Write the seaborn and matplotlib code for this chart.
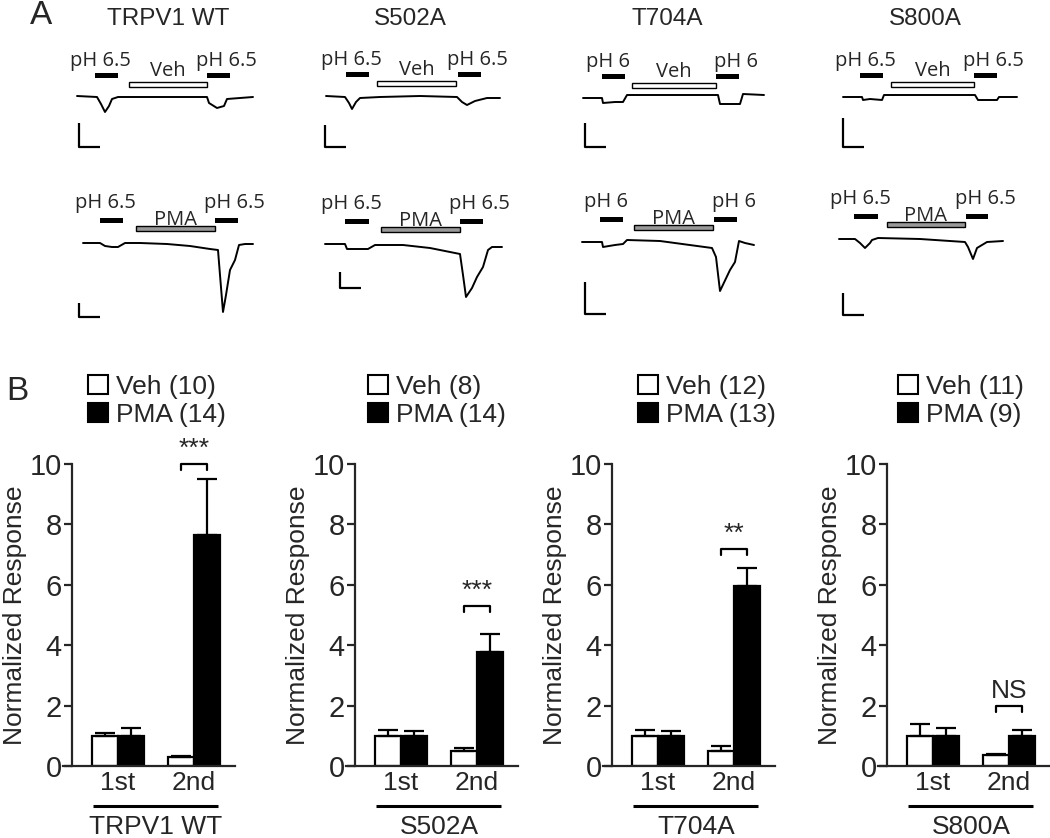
import numpy as np
import pandas as pd
import seaborn as sns
import matplotlib.pyplot as plt
from matplotlib.patches import Patch, Rectangle
from matplotlib.transforms import blended_transform_factory

W, H = 1050, 838

# ---------------- panel B: normalized responses ----------------
constructs = ["TRPV1 WT", "S502A", "T704A", "S800A"]
applications = ["1st", "2nd"]
n_veh = [10, 8, 12, 11]
n_pma = [14, 14, 13, 9]
veh_mean = [[1.0, 0.30], [1.0, 0.50], [1.0, 0.50], [1.0, 0.35]]
veh_sem = [[0.10, 0.04], [0.20, 0.10], [0.20, 0.15], [0.40, 0.05]]
pma_mean = [[1.0, 7.65], [1.0, 3.78], [1.0, 5.95], [1.0, 1.00]]
pma_sem = [[0.25, 1.85], [0.15, 0.58], [0.15, 0.60], [0.25, 0.20]]
sig_labels = ["***", "***", "**", "NS"]
sig_heights = [10.0, 5.3, 7.2, 2.0]

# ---------------- panel A: example current traces ----------------
ph_labels = ["pH 6.5", "pH 6.5", "pH 6", "pH 6.5"]
veh_t = [
    [0, 20, 24, 28, 32, 35, 41, 63, 103, 130, 132, 140, 147, 150, 176],
    [0, 19, 23, 26, 30, 34, 54, 94, 131, 136, 141, 149, 161, 174],
    [0, 19, 20, 32, 40, 44, 77, 117, 135, 137, 147, 157, 160, 181],
    [0, 19, 20, 27, 39, 41, 77, 117, 132, 135, 147, 154, 156, 174],
]
veh_i = [
    [1, 0, -7, -15, -9, -2, 0, 0, 0, 0, -6, -11, -9, -2, 0],
    [0, -1, -7, -13, -6, -2, -1, 0, -1, -6, -9, -5, -2, -2],
    [0, 0, -5, -4, -4, 3, 3, 3, 3, -6, -6, -6, 4, 3],
    [0, 0, -3, -2, -3, 2, 2, 2, 2, -3, -3, -3, 0, 0],
]
pma_t = [
    [0, 17, 22, 29, 35, 42, 57, 84, 107, 127, 135, 137, 140, 143, 147, 152, 156, 162, 170],
    [0, 20, 22, 25, 43, 50, 78, 105, 135, 138, 141, 147, 152, 158, 163, 167, 177],
    [0, 20, 21, 33, 41, 45, 78, 130, 134, 138, 148, 153, 157, 163, 172],
    [0, 16, 21, 26, 31, 33, 39, 81, 126, 129, 134, 138, 148, 164],
]
pma_i = [
    [0, 0, -3, -4, -4, 0, 0, -1, -3, -6, -7, -32, -69, -52, -27, -17, -2, -1, -1],
    [0, 0, -5, -5, -5, -1, -1, -4, -10, -31, -53, -44, -33, -23, -6, -3, -3],
    [0, 0, -5, -3, -2, 2, 1, -6, -15, -49, -28, -20, 1, -1, -3],
    [0, 0, -4, -9, -4, -1, 1, 0, -3, -8, -20, -9, -3, -2],
]
# application windows (start, end), same time units as traces
veh_ph1 = [(18, 41), (20, 43), (19, 42), (17, 40)]
veh_drug = [(52, 130), (51, 130), (49, 133), (48, 131)]
veh_ph2 = [(130, 153), (132, 155), (133, 156), (131, 154)]
pma_ph1 = [(17, 40), (20, 44), (18, 41), (15, 39)]
pma_drug = [(53, 132), (56, 135), (52, 131), (48, 126)]
pma_ph2 = [(132, 155), (135, 158), (132, 155), (127, 149)]
# scale bars: vertical length for each trace (horizontal is the same for all)
veh_scale_v = [24, 22, 24, 29]
pma_scale_v = [14, 16, 32, 22]
scale_h = 21

sns.set_style("ticks")
plt.rcParams["font.family"] = ["Liberation Sans", "DejaVu Sans"]
LBL_FONT = ["Open Sans", "DejaVu Sans"]

fig = plt.figure(figsize=(W / 100, H / 100), dpi=100)


def px_axes(ox, oy, x0=-40, x1=200, y0=-90, y1=50):
    # axes where 1 data unit = 1 pixel, origin at pixel (ox, oy)
    ax = fig.add_axes([(ox + x0) / W, (H - (oy - y0)) / H, (x1 - x0) / W, (y1 - y0) / H])
    ax.set_xlim(x0, x1)
    ax.set_ylim(y0, y1)
    ax.axis("off")
    return ax


def draw_trace(ax, t, i, ph1, drug, ph2, drug_name, drug_color, ph_lab,
               bar_y, drug_y, lab_y, drug_lab_y, sc_xy, sc_v):
    sns.lineplot(x=t, y=i, ax=ax, color="black", lw=1.4, sort=False, estimator=None)
    for s, e in (ph1, ph2):
        ax.add_patch(Rectangle((s, bar_y - 2.5), e - s, 5, color="black", lw=0))
    ax.add_patch(Rectangle((drug[0], drug_y), drug[1] - drug[0], 5,
                           facecolor=drug_color, edgecolor="black", lw=1))
    ax.text((ph1[0] + ph1[1]) / 2 - 6, lab_y, ph_lab, ha="center", va="baseline",
            fontsize=14.5, family=LBL_FONT)
    ax.text((ph2[0] + ph2[1]) / 2 + 8, lab_y, ph_lab, ha="center", va="baseline",
            fontsize=14.5, family=LBL_FONT)
    ax.text((drug[0] + drug[1]) / 2, drug_lab_y, drug_name, ha="center", va="baseline",
            fontsize=14.5, family=LBL_FONT)
    sx, sy = sc_xy
    ax.plot([sx, sx, sx + scale_h], [sy + sc_v, sy, sy], color="black", lw=1.6,
            solid_capstyle="butt")


veh_origin = [(77, 97), (326, 96), (583, 98), (843, 97)]
pma_origin = [(83, 243), (325, 244), (582, 242), (839, 239)]
veh_scale_xy = [(2, -50), (-1, -51), (2, -49), (0, -50)]
pma_scale_xy = [(-4, -74), (15, -44), (3, -72), (4, -76)]
title_x = [168, 410, 667, 925]

for k in range(4):
    ax = px_axes(*veh_origin[k])
    draw_trace(ax, veh_t[k], veh_i[k], veh_ph1[k], veh_drug[k], veh_ph2[k],
               "Veh", "white", ph_labels[k], 21, 10, 31, 21,
               veh_scale_xy[k], veh_scale_v[k])
    ax = px_axes(*pma_origin[k])
    draw_trace(ax, pma_t[k], pma_i[k], pma_ph1[k], pma_drug[k], pma_ph2[k],
               "PMA", "#999999", ph_labels[k], 22, 12, 35, 18,
               pma_scale_xy[k], pma_scale_v[k])
    fig.text(title_x[k] / W, 1 - 19 / H, constructs[k], ha="center", va="center",
             fontsize=17.5)

fig.text(41 / W, 1 - 16 / H, "A", ha="center", va="center", fontsize=24)
fig.text(17 / W, 1 - 391 / H, "B", ha="center", va="center", fontsize=24)

# ---------------- panel B bar charts ----------------
yaxis_px = [72, 355, 612, 887]
Y0, Y10 = 766, 464
AX_W = 172
unit = 76.0
x_left = -55 / unit
legend_dx = [16, 13, 26, 11]

for k in range(4):
    left = yaxis_px[k] - 9
    ax = fig.add_axes([left / W, (H - Y0) / H, AX_W / W, (Y0 - Y10) / H])
    df = pd.DataFrame({
        "application": applications * 2,
        "treatment": ["Veh"] * 2 + ["PMA"] * 2,
        "value": veh_mean[k] + pma_mean[k],
    })
    sns.barplot(data=df, x="application", y="value", hue="treatment",
                hue_order=["Veh", "PMA"], order=applications,
                palette={"Veh": "white", "PMA": "black"}, edgecolor="black",
                linewidth=1.6, width=0.68, errorbar=None, legend=False, ax=ax)
    for cont, sems in zip(ax.containers, [veh_sem[k], pma_sem[k]]):
        for bar, err in zip(cont, sems):
            xc = bar.get_x() + bar.get_width() / 2
            ax.errorbar(xc, bar.get_height(), yerr=[[0], [err]], color="black",
                        lw=1.6, capsize=7, capthick=1.6, zorder=1)
    ax.set_xlim(x_left, x_left + AX_W / unit)
    ax.set_ylim(0, 10)
    ax.set_yticks([0, 2, 4, 6, 8, 10])
    ax.tick_params(axis="y", length=6, width=1.6, labelsize=21, pad=1.5)
    ax.set_xticks([])
    ax.set_xlabel("")
    ax.set_ylabel("Normalized Response", fontsize=19, labelpad=2)
    ax.spines["left"].set_position(("data", -46 / unit))
    for side in ("left", "bottom"):
        ax.spines[side].set_linewidth(1.6)
    sns.despine(ax=ax)

    # significance bracket across the second application
    b_veh = ax.containers[0][1]
    b_pma = ax.containers[1][1]
    x1 = b_veh.get_x() + b_veh.get_width() / 2
    x2 = b_pma.get_x() + b_pma.get_width() / 2
    h = sig_heights[k]
    ax.plot([x1, x1, x2, x2], [h - 0.2, h, h, h - 0.2], color="black", lw=1.6,
            clip_on=False)
    ax.text((x1 + x2) / 2, h + 0.5, sig_labels[k], ha="center", va="center",
            fontsize=19, clip_on=False)

    # category labels, group line and construct name below the axis
    tr = blended_transform_factory(ax.transData, ax.transAxes)
    span = Y0 - Y10
    for j, lab in enumerate(applications):
        ax.text(j, -17 / span, lab, transform=tr, ha="center", va="center", fontsize=19)
    ax.plot([-0.33, 1.32], [-40 / span, -40 / span], transform=tr, color="black",
            lw=2.2, clip_on=False, solid_capstyle="butt")
    ax.text(0.5, -61 / span, constructs[k], transform=tr, ha="center", va="center",
            fontsize=19)

    handles = [Patch(facecolor="white", edgecolor="black", lw=1.5),
               Patch(facecolor="black", edgecolor="black", lw=1.5)]
    ax.legend(handles, [f"Veh ({n_veh[k]})", f"PMA ({n_pma[k]})"],
              loc="upper left", bbox_to_anchor=((9 + legend_dx[k]) / AX_W, (Y0 - 375) / span),
              frameon=False, fontsize=19, handlelength=0.75, handleheight=0.75,
              handletextpad=0.3, labelspacing=0.15, borderpad=0, borderaxespad=0)

fig.savefig("out.png", dpi=100)
